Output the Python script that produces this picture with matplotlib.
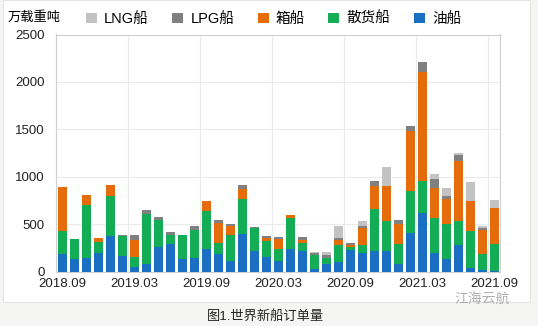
import numpy as np
import matplotlib
matplotlib.use('Agg')
import matplotlib.pyplot as plt
from matplotlib.patches import Rectangle

plt.rcParams['font.family'] = ['Liberation Sans', 'Noto Sans CJK SC']

# 月份 2018.09 - 2021.09
months = []
y, m = 2018, 9
for _ in range(37):
    months.append(f'{y}.{m:02d}')
    m += 1
    if m > 12:
        y, m = y + 1, 1

# 各船型订单量（万载重吨）
oil = [180, 135, 145, 190, 370, 160, 50, 75, 255, 290, 135, 140, 235, 180, 115, 400, 220, 155, 115,
       236, 215, 25, 75, 100, 225, 190, 220, 215, 80, 410, 620, 190, 135, 275, 40, 15, 5]
bulk = [245, 205, 560, 120, 425, 210, 100, 530, 290, 90, 255, 300, 400, 120, 265, 370, 240, 165, 125,
        325, 90, 150, 70, 180, 30, 90, 440, 315, 215, 440, 335, 370, 370, 260, 390, 170, 290]
box = [470, 0, 100, 40, 120, 0, 185, 0, 0, 0, 0, 0, 110, 215, 100, 105, 0, 35, 100,
       40, 30, 0, 0, 55, 25, 180, 240, 375, 210, 630, 1150, 325, 265, 630, 315, 255, 375]
lpg = [0, 0, 0, 0, 0, 15, 50, 45, 25, 40, 0, 35, 0, 25, 25, 40, 10, 20, 25,
       0, 30, 15, 25, 20, 25, 15, 50, 0, 35, 50, 100, 95, 25, 60, 0, 20, 0]
lng = [0, 0, 0, 0, 0, 0, 0, 0, 0, 0, 0, 0, 0, 0, 0, 0, 0, 0, 0,
       0, 0, 15, 40, 120, 0, 60, 0, 200, 0, 0, 0, 45, 90, 25, 200, 25, 80]

series = [('油船', oil, '#1B6FC2'), ('散货船', bulk, '#12AD55'), ('箱船', box, '#E46C0A'),
          ('LPG船', lpg, '#808080'), ('LNG船', lng, '#C3C3C3')]

fig = plt.figure(figsize=(5.38, 3.26), dpi=100)
fig.patch.set_facecolor('#F5F5F3')
fig.patches.append(Rectangle((3 / 538, 1 - 302 / 326), 527 / 538, 302 / 326,
                             transform=fig.transFigure, facecolor='white',
                             edgecolor='#E4E4E4', linewidth=0.8, zorder=-1))

ax = fig.add_axes([56 / 538, 1 - 271.5 / 326, 444 / 538, 237 / 326])
x = np.arange(len(months))
bottom = np.zeros(len(months))
handles = {}
for name, vals, color in series:
    b = ax.bar(x, vals, width=0.75, bottom=bottom, color=color, linewidth=0, zorder=3)
    handles[name] = b
    bottom += np.array(vals)

ax.set_xlim(-0.5, 36.5)
ax.set_ylim(0, 2500)
ax.set_yticks(np.arange(0, 2501, 500))
ax.set_xticks(x[::6])
ax.set_xticklabels(months[::6])
ax.tick_params(length=0, labelsize=9.5, colors='#222222')
ax.tick_params(axis='x', pad=5)
ax.tick_params(axis='y', pad=8)
for yv in np.arange(500, 2500, 500):
    ax.axhline(yv, color='#EBEBEB', linewidth=0.8, zorder=1)
for xv in np.arange(5.5, 36, 6):
    ax.axvline(xv, color='#EBEBEB', linewidth=0.8, zorder=1)
for s in ax.spines.values():
    s.set_color('#D0D0D0')
    s.set_linewidth(0.8)

fig.text(8 / 538, 1 - 18 / 326, '万载重吨', fontsize=9.5, va='center', ha='left')
order = ['LNG船', 'LPG船', '箱船', '散货船', '油船']
fig.legend([handles[n] for n in order], order, loc='center left',
           bbox_to_anchor=(80 / 538, 1 - 19 / 326), ncol=5, frameon=False,
           fontsize=10.5, handlelength=0.75, handleheight=0.75, handletextpad=0.5,
           columnspacing=1.6, borderaxespad=0)

fig.text(265 / 538, 1 - 316 / 326, '图1.世界新船订单量', fontsize=9.5, ha='center', va='center',
         color='#222222')
fig.text(510 / 538, 1 - 299 / 326, '江海云航', fontsize=10, ha='right', va='center',
         color='#B0B0B0')

fig.savefig('out.png', dpi=100, facecolor=fig.get_facecolor())
